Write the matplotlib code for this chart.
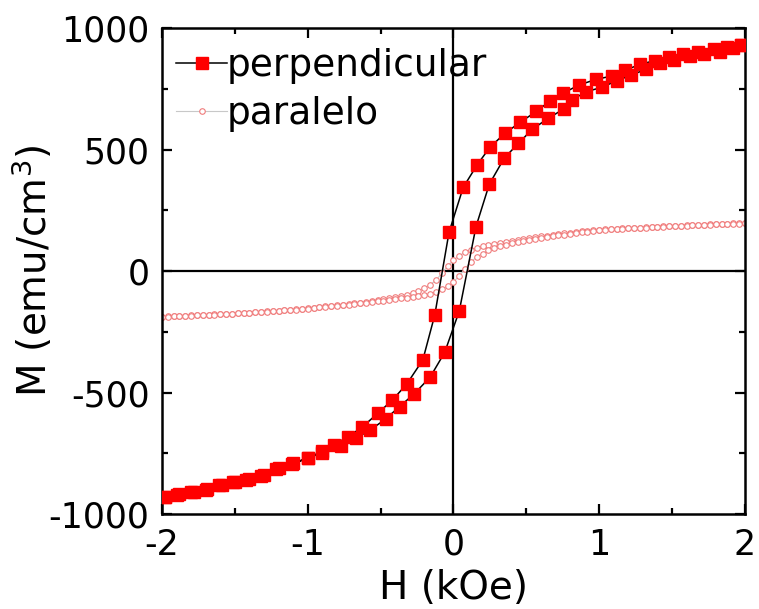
import matplotlib

matplotlib.use("Agg")
import matplotlib.pyplot as plt
from matplotlib.ticker import MultipleLocator

plt.rcParams["axes.unicode_minus"] = False
plt.rcParams["font.family"] = "DejaVu Sans"

# perpendicular loop, field sweep from +2 down to -2 kOe
perp_down_h = [1.975, 1.88, 1.79, 1.68, 1.575, 1.48, 1.38, 1.28, 1.18, 1.085, 0.98,
               0.86, 0.75, 0.665, 0.57, 0.46, 0.354, 0.25, 0.163, 0.067, -0.03,
               -0.128, -0.21, -0.32, -0.42, -0.52, -0.625, -0.725, -0.817, -0.905,
               -1.0, -1.11, -1.22, -1.32, -1.42, -1.51, -1.61, -1.70, -1.80, -1.90, -1.98]
perp_down_m = [930, 922, 912, 903, 893, 882, 866, 850, 827, 802, 789,
               765, 731, 701, 657, 613, 567, 509, 437, 344, 160,
               -181, -366, -465, -532, -586, -642, -683, -714, -742,
               -771, -795, -816, -844, -860, -868, -882, -900, -910, -920, -929]

# perpendicular loop, field sweep from -2 back up to +2 kOe
perp_up_h = [-1.98, -1.88, -1.78, -1.69, -1.59, -1.50, -1.40, -1.30, -1.20, -1.10,
             -1.00, -0.90, -0.77, -0.67, -0.57, -0.465, -0.37, -0.27, -0.16, -0.06,
             0.04, 0.155, 0.246, 0.35, 0.446, 0.54, 0.65, 0.757, 0.815, 0.91,
             1.02, 1.12, 1.22, 1.32, 1.42, 1.515, 1.62, 1.72, 1.83, 1.92, 1.975]
perp_up_m = [-929, -918, -908, -898, -881, -869, -855, -840, -812, -790,
             -770, -748, -722, -688, -654, -609, -558, -506, -437, -335,
             -165, 183, 357, 466, 525, 583, 628, 667, 704, 738,
             756, 783, 806, 830, 855, 868, 885, 893, 902, 916, 930]

# paralelo loop, field grid (kOe) shared by both sweeps
para_h = [-2.00, -1.96, -1.92, -1.88, -1.84, -1.80, -1.76, -1.72, -1.68, -1.64,
          -1.60, -1.56, -1.52, -1.48, -1.44, -1.40, -1.36, -1.32, -1.28, -1.24,
          -1.20, -1.16, -1.12, -1.08, -1.04, -1.00, -0.96, -0.92, -0.88, -0.84,
          -0.80, -0.76, -0.72, -0.68, -0.64, -0.60, -0.56, -0.52, -0.48, -0.44,
          -0.40, -0.36, -0.32, -0.28, -0.24, -0.20, -0.16, -0.12, -0.08, -0.04,
          0.00, 0.04, 0.08, 0.12, 0.16, 0.20, 0.24, 0.28, 0.32, 0.36,
          0.40, 0.44, 0.48, 0.52, 0.56, 0.60, 0.64, 0.68, 0.72, 0.76,
          0.80, 0.84, 0.88, 0.92, 0.96, 1.00, 1.04, 1.08, 1.12, 1.16,
          1.20, 1.24, 1.28, 1.32, 1.36, 1.40, 1.44, 1.48, 1.52, 1.56,
          1.60, 1.64, 1.68, 1.72, 1.76, 1.80, 1.84, 1.88, 1.92, 1.96, 2.00]
# upper branch (coming down from +2), listed on para_h order
para_down_m = [-188, -187, -186, -185, -184, -183, -182, -181, -179, -178,
               -177, -176, -175, -173, -172, -171, -169, -168, -166, -165,
               -163, -161, -160, -158, -156, -154, -151, -149, -146, -144,
               -141, -139, -136, -133, -130, -127, -124, -121, -117, -113,
               -108, -103, -97, -90, -82, -71, -57, -38, -10, 20,
               45, 63, 77, 87, 95, 101, 107, 112, 117, 121,
               125, 129, 133, 136, 140, 143, 146, 149, 152, 155,
               158, 160, 163, 165, 167, 169, 171, 172, 174, 175,
               177, 178, 179, 181, 182, 183, 184, 185, 186, 187,
               188, 189, 190, 191, 192, 193, 194, 195, 196, 196, 197]
# lower branch (going up from -2)
para_up_m = [-189, -188, -187, -186, -185, -184, -183, -182, -180, -179,
             -178, -177, -176, -174, -173, -172, -170, -169, -167, -166,
             -164, -162, -161, -159, -157, -155, -153, -150, -148, -146,
             -143, -141, -138, -136, -133, -130, -128, -125, -122, -119,
             -116, -113, -110, -107, -104, -100, -95, -86, -76, -62,
             -45, -20, 10, 38, 57, 72, 86, 95, 103, 109,
             114, 119, 124, 128, 132, 136, 140, 144, 147, 150,
             153, 156, 159, 162, 164, 167, 169, 171, 172, 174,
             175, 177, 178, 179, 181, 182, 183, 184, 185, 186,
             187, 188, 189, 190, 191, 192, 193, 194, 195, 195, 196]

TICK_FS = 25
LABEL_FS = 28
LEGEND_FS = 27

fig = plt.figure(figsize=(7.59, 6.09), dpi=100)
ax = fig.add_axes([0.2134, 0.156, 0.768, 0.798])

ax.axhline(0, color="black", lw=1.6, zorder=1)
ax.axvline(0, color="black", lw=1.6, zorder=1)

ax.plot(para_h[::-1] + para_h, para_down_m[::-1] + para_up_m, color="#c8c8c8", lw=0.8,
        marker="o", ms=4, mfc="white", mec="#f07c7c", mew=0.8, label="paralelo", zorder=2)
ax.plot(perp_down_h + perp_up_h, perp_down_m + perp_up_m, color="black", lw=1.1,
        marker="s", ms=8, mfc="#ff0000", mec="#ff0000", label="perpendicular", zorder=3)

ax.set_xlim(-2, 2)
ax.set_ylim(-1000, 1000)
ax.xaxis.set_major_locator(MultipleLocator(1))
ax.xaxis.set_minor_locator(MultipleLocator(0.5))
ax.yaxis.set_major_locator(MultipleLocator(500))
ax.yaxis.set_minor_locator(MultipleLocator(250))
ax.tick_params(which="both", direction="in", top=True, right=True, width=1.6,
               labelsize=TICK_FS)
ax.tick_params(which="major", length=7)
ax.tick_params(which="minor", length=4)
ax.tick_params(axis="x", pad=10)
ax.tick_params(axis="y", pad=9)
for spine in ax.spines.values():
    spine.set_linewidth(1.8)

ax.set_xlabel("H (kOe)", fontsize=LABEL_FS, labelpad=5)
ax.set_ylabel("M (emu/cm$^3$)", fontsize=LABEL_FS)
ax.yaxis.set_label_coords(-0.183, 0.5)

handles, labels = ax.get_legend_handles_labels()
ax.legend(handles[::-1], labels[::-1], loc="upper left", frameon=False, fontsize=LEGEND_FS,
          handlelength=1.35, handletextpad=0.0, borderaxespad=0.0, labelspacing=0.32,
          borderpad=0.2, bbox_to_anchor=(0.012, 0.975))

fig.savefig("out.png", dpi=100)
